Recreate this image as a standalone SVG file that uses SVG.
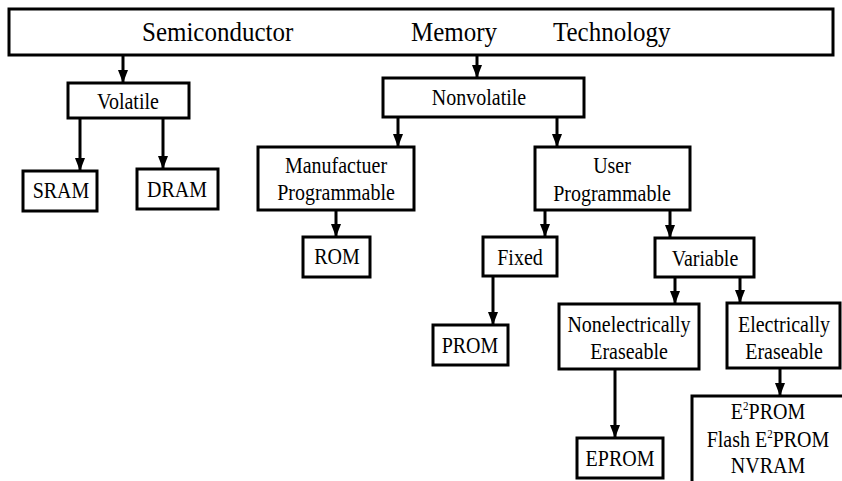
<svg xmlns="http://www.w3.org/2000/svg" width="842" height="481" viewBox="0 0 842 481">
<style>
  .box { fill: #ffffff; stroke: #000000; stroke-width: 3; }
  .lbl { font-family: "Liberation Serif", "Times New Roman", serif; font-size: 20px; fill: #000000; text-anchor: middle; }
  .ttl { font-family: "Liberation Serif", "Times New Roman", serif; font-size: 25px; fill: #000000; }
  .sup { font-size: 11px; }
  .edge { stroke: #000000; stroke-width: 3; fill: none; marker-end: url(#arr); }
</style>
<defs>
  <marker id="arr" markerUnits="userSpaceOnUse" markerWidth="13" markerHeight="10" viewBox="0 0 13 10" refX="13" refY="5" orient="auto">
    <path d="M0,0 L13,5 L0,10 Z" fill="#000000"/>
  </marker>
</defs>
<rect width="842" height="481" fill="#ffffff"/>

<g id="connectors">
  <line class="edge" x1="123" y1="55" x2="123" y2="83"/>
  <line class="edge" x1="477" y1="55" x2="477" y2="78"/>
  <line class="edge" x1="80" y1="118" x2="80" y2="171"/>
  <line class="edge" x1="163" y1="118" x2="163" y2="169"/>
  <line class="edge" x1="398" y1="117" x2="398" y2="147"/>
  <line class="edge" x1="557" y1="117" x2="557" y2="147"/>
  <line class="edge" x1="336" y1="210" x2="336" y2="237"/>
  <line class="edge" x1="545" y1="210" x2="545" y2="237"/>
  <line class="edge" x1="670" y1="210" x2="670" y2="238"/>
  <line class="edge" x1="493" y1="276" x2="493" y2="325"/>
  <line class="edge" x1="675" y1="277" x2="675" y2="304"/>
  <line class="edge" x1="740" y1="277" x2="740" y2="303"/>
  <line class="edge" x1="615" y1="369" x2="615" y2="438"/>
  <line class="edge" x1="780" y1="368" x2="780" y2="396"/>
</g>

<g id="semiconductor-memory-technology">
  <rect class="box" x="9" y="9" width="824" height="46"/>
  <text class="ttl" transform="translate(142,41) scale(1,1.08)">Semiconductor</text>
  <text class="ttl" transform="translate(411,41) scale(1,1.08)">Memory</text>
  <text class="ttl" transform="translate(553,41) scale(1,1.08)">Technology</text>
</g>

<g id="volatile">
  <rect class="box" x="68" y="83" width="121" height="35"/>
  <text class="lbl" transform="translate(128,109) scale(1,1.18)">Volatile</text>
</g>

<g id="sram">
  <rect class="box" x="23" y="171" width="74" height="40"/>
  <text class="lbl" transform="translate(61,198) scale(1,1.18)">SRAM</text>
</g>

<g id="dram">
  <rect class="box" x="137" y="169" width="81" height="40"/>
  <text class="lbl" transform="translate(177,197) scale(1,1.18)">DRAM</text>
</g>

<g id="nonvolatile">
  <rect class="box" x="383" y="78" width="201" height="39"/>
  <text class="lbl" transform="translate(479,105) scale(1,1.18)">Nonvolatile</text>
</g>

<g id="manufacturer-programmable">
  <rect class="box" x="258" y="147" width="156" height="63"/>
  <text class="lbl" transform="translate(336,173) scale(1,1.18)">Manufactuer</text>
  <text class="lbl" transform="translate(336,200) scale(1,1.18)">Programmable</text>
</g>

<g id="rom">
  <rect class="box" x="303" y="237" width="67" height="40"/>
  <text class="lbl" transform="translate(337,264) scale(1,1.18)">ROM</text>
</g>

<g id="user-programmable">
  <rect class="box" x="535" y="147" width="155" height="63"/>
  <text class="lbl" transform="translate(612,173) scale(1,1.18)">User</text>
  <text class="lbl" transform="translate(612,201) scale(1,1.18)">Programmable</text>
</g>

<g id="fixed">
  <rect class="box" x="483" y="237" width="74" height="39"/>
  <text class="lbl" transform="translate(520,265) scale(1,1.18)">Fixed</text>
</g>

<g id="variable">
  <rect class="box" x="655" y="238" width="99" height="39"/>
  <text class="lbl" transform="translate(705,266) scale(1,1.18)">Variable</text>
</g>

<g id="prom">
  <rect class="box" x="433" y="325" width="75" height="40"/>
  <text class="lbl" transform="translate(470,353) scale(1,1.18)">PROM</text>
</g>

<g id="nonelectrically-eraseable">
  <rect class="box" x="559" y="304" width="140" height="65"/>
  <text class="lbl" transform="translate(629,332) scale(1,1.18)">Nonelectrically</text>
  <text class="lbl" transform="translate(629,359) scale(1,1.18)">Eraseable</text>
</g>

<g id="electrically-eraseable">
  <rect class="box" x="727" y="303" width="113" height="65"/>
  <text class="lbl" transform="translate(784,332) scale(1,1.18)">Electrically</text>
  <text class="lbl" transform="translate(784,359) scale(1,1.18)">Eraseable</text>
</g>

<g id="eprom">
  <rect class="box" x="577" y="438" width="86" height="40"/>
  <text class="lbl" transform="translate(620,466) scale(1,1.18)">EPROM</text>
</g>

<g id="e2prom-flash-nvram">
  <rect class="box" x="692" y="396" width="170" height="110"/>
  <text class="lbl" transform="translate(768,419) scale(1,1.18)">E<tspan class="sup" dy="-8">2</tspan><tspan dy="8">PROM</tspan></text>
  <text class="lbl" transform="translate(768,447) scale(1,1.18)">Flash E<tspan class="sup" dy="-8">2</tspan><tspan dy="8">PROM</tspan></text>
  <text class="lbl" transform="translate(768,473) scale(1,1.18)">NVRAM</text>
</g>
</svg>
